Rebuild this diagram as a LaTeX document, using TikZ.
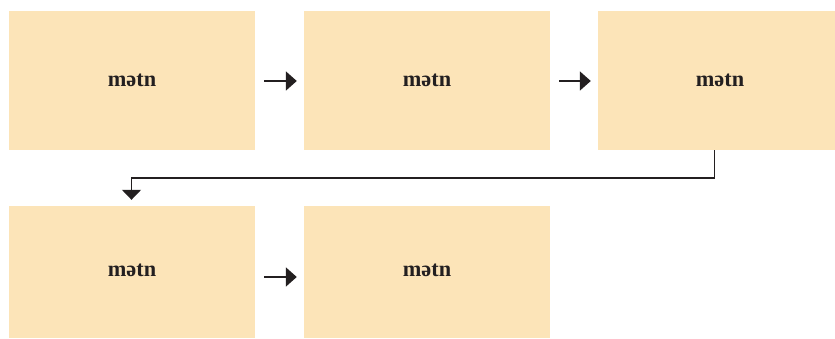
\documentclass[tikz,border=0pt]{standalone}
\usepackage{fontspec}
\setmainfont{Liberation Serif}
\usetikzlibrary{arrows.meta}
\definecolor{boxfill}{HTML}{FCE4B8}
\definecolor{ink}{HTML}{231F20}
\tikzset{
  stepbox/.style={fill=boxfill, draw=none, minimum width=246pt, inner sep=0pt,
    font=\fontsize{22.3}{26}\selectfont\bfseries, text=ink},
  flow/.style={draw=ink, line width=2pt, -{Triangle[length=11pt,width=19pt]}},
  elbow/.style={draw=ink, line width=1.4pt, -{Triangle[length=10pt,width=19pt]}}
}
\begin{document}
\begin{tikzpicture}[x=1pt,y=-1pt]
\useasboundingbox (0,0) rectangle (835,339);
\node[stepbox, minimum height=139pt] (b1) at (132,80.5) {mətn};
\node[stepbox, minimum height=139pt] (b2) at (427,80.5) {mətn};
\node[stepbox, minimum height=139pt, minimum width=237pt] (b3) at (716.5,80.5) {\hspace{7pt}mətn};
\node[stepbox, minimum height=132pt] (b4) at (132,272) {\raisebox{4pt}{mətn}};
\node[stepbox, minimum height=132pt] (b5) at (427,272) {\raisebox{4pt}{mətn}};
\draw[flow, shorten <=9pt, shorten >=7pt] (b1.east |- 0,81) -- (b2.west |- 0,81);
\draw[flow, shorten <=9pt, shorten >=7pt] (b2.east |- 0,81) -- (b3.west |- 0,81);
\draw[flow, shorten <=9pt, shorten >=7pt] (b4.east |- 0,277) -- (b5.west |- 0,277);
\coordinate (c1) at (714.5,178);
\coordinate (c2) at (131.5,178);
\draw[elbow, shorten >=6pt] (b3.south -| c1) -- (c1) -- (c2) -- (b4.north -| c2);
\end{tikzpicture}
\end{document}
